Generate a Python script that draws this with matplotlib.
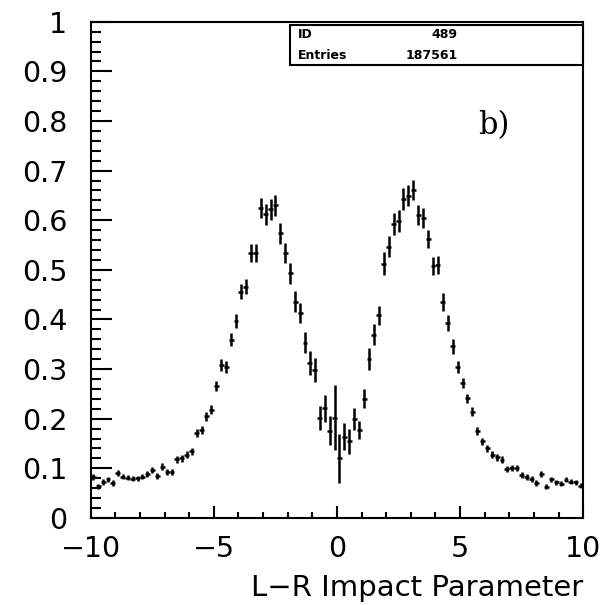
import numpy as np
import matplotlib
matplotlib.use('Agg')
import matplotlib.pyplot as plt
from matplotlib.ticker import MultipleLocator

# histogram 489: 100 bins of 0.2 from -10 to 10
bin_edges = np.linspace(-10, 10, 101)
bin_centers = 0.5 * (bin_edges[:-1] + bin_edges[1:])

# bin contents
values_left_tail = [0.083, 0.064, 0.073, 0.078, 0.070, 0.091, 0.083, 0.081, 0.079, 0.080,
                    0.083, 0.088, 0.097, 0.085, 0.103, 0.093, 0.093, 0.118, 0.120, 0.127,
                    0.134, 0.171, 0.177, 0.205, 0.218]
values_left_peak = [0.265, 0.308, 0.304, 0.359, 0.396, 0.456, 0.466, 0.534, 0.534, 0.625,
                    0.612, 0.622, 0.630, 0.574, 0.534, 0.493, 0.436, 0.413, 0.353, 0.312,
                    0.298, 0.201, 0.221, 0.176, 0.202]
values_right_peak = [0.120, 0.164, 0.154, 0.200, 0.177, 0.240, 0.321, 0.369, 0.408, 0.512,
                     0.547, 0.593, 0.598, 0.643, 0.649, 0.661, 0.610, 0.604, 0.562, 0.507,
                     0.509, 0.436, 0.393, 0.346, 0.305]
values_right_tail = [0.272, 0.241, 0.214, 0.176, 0.154, 0.140, 0.127, 0.122, 0.117, 0.098,
                     0.100, 0.100, 0.087, 0.083, 0.078, 0.070, 0.089, 0.063, 0.078, 0.072,
                     0.069, 0.077, 0.073, 0.072, 0.065]
values = values_left_tail + values_left_peak + values_right_peak + values_right_tail

# vertical error bars
errors = [0.006, 0.005, 0.006, 0.005, 0.006, 0.006, 0.005, 0.005, 0.005, 0.005,
          0.005, 0.006, 0.006, 0.006, 0.007, 0.006, 0.006, 0.007, 0.007, 0.007, 0.007,
          0.008, 0.008, 0.009, 0.009,
          0.010, 0.012, 0.012, 0.013, 0.014, 0.015, 0.015, 0.018, 0.018,
          0.020, 0.021, 0.021, 0.021, 0.021, 0.021, 0.021, 0.021, 0.021, 0.021, 0.024, 0.024,
          0.024, 0.027, 0.029, 0.066,
          0.049, 0.027, 0.025, 0.022, 0.018, 0.019, 0.022, 0.021, 0.020,
          0.023, 0.022, 0.022, 0.022, 0.022, 0.021, 0.021, 0.020, 0.020, 0.019, 0.018, 0.018,
          0.018, 0.016, 0.015, 0.012, 0.010,
          0.009, 0.009, 0.008, 0.008, 0.007, 0.007, 0.007, 0.007, 0.006, 0.006, 0.006, 0.006,
          0.006, 0.006, 0.006, 0.006, 0.005, 0.005, 0.005, 0.005, 0.005, 0.005, 0.005, 0.005]

hist_id = '489'
hist_entries = '187561'

fig = plt.figure(figsize=(6.05, 6.05), dpi=100)
ax = fig.add_axes([0.150, 0.144, 0.814, 0.820])

ax.errorbar(bin_centers, values, xerr=0.1, yerr=errors, fmt='none',
            ecolor='black', elinewidth=1.8, capsize=0)

ax.set_xlim(-10, 10)
ax.set_ylim(0, 1)
ax.xaxis.set_major_locator(MultipleLocator(5))
ax.xaxis.set_minor_locator(MultipleLocator(1))
ax.yaxis.set_minor_locator(MultipleLocator(0.02))
ax.set_yticks(np.arange(0, 1.01, 0.1))
ax.set_yticklabels(['0', '0.1', '0.2', '0.3', '0.4', '0.5', '0.6', '0.7', '0.8', '0.9', '1'])

ax.tick_params(axis='both', which='both', direction='in', top=False, right=False,
               width=1.5, labelsize=20.5)
ax.tick_params(axis='y', which='major', length=15, pad=17)
ax.tick_params(axis='y', which='minor', length=7)
ax.tick_params(axis='x', which='major', length=9, pad=12)
ax.tick_params(axis='x', which='minor', length=4)
for s in ax.spines.values():
    s.set_linewidth(1.5)

ax.set_xlabel('L\u2212R Impact Parameter', fontsize=21, loc='right', labelpad=8)

# stats box
ax.add_patch(plt.Rectangle((0.405, 0.913), 0.595, 0.081, transform=ax.transAxes,
                           fill=False, edgecolor='black', linewidth=1.5, clip_on=False))
ax.text(0.42, 0.975, 'ID', transform=ax.transAxes, fontsize=9, fontweight='bold', va='center')
ax.text(0.745, 0.975, hist_id, transform=ax.transAxes, fontsize=9, fontweight='bold',
        va='center', ha='right')
ax.text(0.42, 0.932, 'Entries', transform=ax.transAxes, fontsize=9, fontweight='bold', va='center')
ax.text(0.745, 0.932, hist_entries, transform=ax.transAxes, fontsize=9, fontweight='bold',
        va='center', ha='right')

ax.text(6.35, 0.79, 'b)', fontsize=22, family='serif', ha='center', va='center')

plt.savefig('out.png', dpi=100)
